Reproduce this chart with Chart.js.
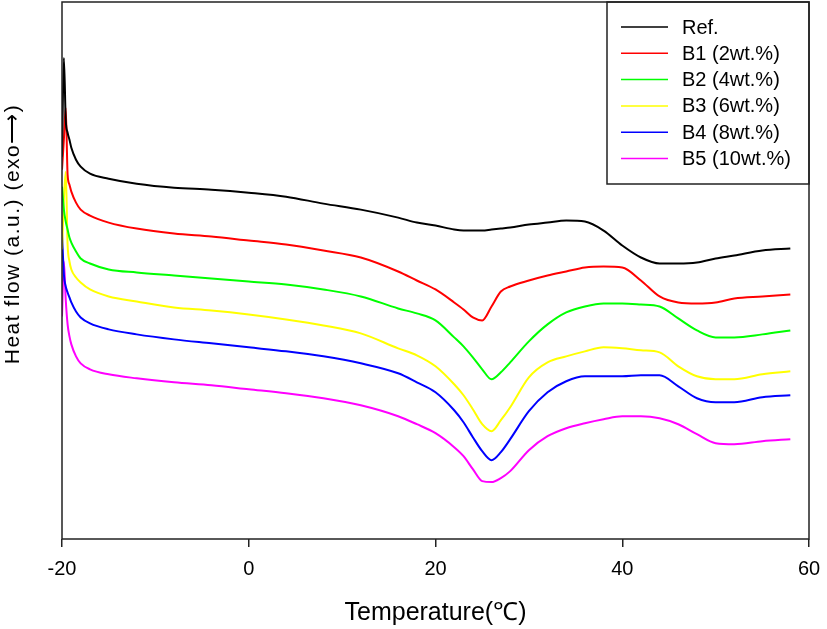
<!DOCTYPE html>
<html>
<head>
<meta charset="utf-8">
<script src="https://cdn.jsdelivr.net/npm/chart.js@4.4.1/dist/chart.umd.min.js"></script>
<style>
  html, body { margin: 0; padding: 0; background: #fff; }
  #wrap { width: 827px; height: 629px; }
</style>
</head>
<body>
<div id="wrap"><canvas id="dscChart" width="827" height="629"></canvas></div>
<script>
// temperature grid (deg C)
const temps = [-20, -19.8, -19.6, -19.4, -19.2, -19, -18.5, -18, -17, -15, -12, -8, -4, 0, 4, 8, 12, 16, 18, 20,
               22, 23, 24, 25, 26, 27, 28, 30, 32, 34, 36, 38, 40, 42, 44, 46, 48, 50, 52, 55, 58];

// heat flow, arbitrary units (curves are offset, exo up)
const refFlow = [383, 482, 420, 407, 400, 392, 380, 373, 366, 361, 356, 352, 350, 347, 343, 336, 330, 322, 317, 314,
                 310, 309, 309, 309, 310, 311, 312, 315, 317, 319, 318, 309, 294, 282, 276, 276, 277, 281, 284, 289, 291];
const b1Flow = [370, 400, 432, 365, 355, 348, 337, 330, 324, 317, 311, 306, 303, 299, 295, 289, 282, 268, 259, 250,
                237, 230, 222, 219, 233, 248, 253, 259, 264, 268, 272, 273, 272, 259, 243, 237, 236, 237, 241, 243, 245];
const b2Flow = [353, 330, 318, 310, 302, 297, 288, 281, 276, 270, 267, 264, 261, 258, 255, 250, 243, 231, 226, 219,
                202, 193, 182, 170, 160, 167, 177, 198, 215, 227, 233, 236, 236, 235, 233, 221, 209, 202, 202, 205, 209];
const b3Flow = [290, 340, 368, 295, 278, 270, 262, 257, 250, 243, 238, 232, 229, 225, 220, 214, 206, 191, 184, 173,
                155, 144, 130, 115, 108, 119, 132, 162, 177, 183, 188, 192, 191, 189, 187, 173, 163, 160, 160, 165, 168];
const b4Flow = [307, 265, 253, 247, 242, 237, 228, 222, 216, 210, 205, 200, 196, 192, 188, 183, 176, 166, 157, 147,
                129, 117, 102, 88, 79, 87, 100, 128, 147, 158, 163, 163, 163, 164, 164, 153, 141, 137, 137, 142, 144];
const b5Flow = [223, 278, 240, 215, 203, 195, 183, 176, 170, 165, 161, 157, 154, 150, 146, 141, 134, 123, 115, 106,
                92, 83, 70, 58, 57, 61, 68, 89, 103, 111, 116, 120, 123, 123, 121, 115, 105, 96, 95, 98, 100];

const seriesLabels = ['Ref.', 'B1 (2wt.%)', 'B2 (4wt.%)', 'B3 (6wt.%)', 'B4 (8wt.%)', 'B5 (10wt.%)'];
const seriesColors = ['#000000', '#ff0000', '#00ff00', '#ffff00', '#0000ff', '#ff00ff'];
const seriesValues = [refFlow, b1Flow, b2Flow, b3Flow, b4Flow, b5Flow];
const xTicks = [-20, 0, 20, 40, 60];

const FONT = '"Liberation Sans", Arial, sans-serif';

// box round the plot, the legend in the top right, and the y title
const framePlugin = {
    id: 'frame',
    afterDraw: function(chart) {
        const ctx = chart.ctx;
        const a = chart.chartArea;
        ctx.save();
        ctx.strokeStyle = '#222';
        ctx.lineWidth = 1.5;
        ctx.strokeRect(a.left, a.top, a.right - a.left, a.bottom - a.top);

        // legend box
        const boxLeft = 607, boxBottom = 184;
        ctx.strokeRect(boxLeft, a.top, a.right - boxLeft, boxBottom - a.top);
        ctx.font = '20px ' + FONT;
        ctx.textBaseline = 'middle';
        ctx.textAlign = 'left';
        chart.data.datasets.forEach(function(ds, i) {
            const y = 27 + i * 26.3;
            ctx.strokeStyle = ds.borderColor;
            ctx.lineWidth = 1.5;
            ctx.beginPath();
            ctx.moveTo(621, y);
            ctx.lineTo(668, y);
            ctx.stroke();
            ctx.fillStyle = '#000';
            ctx.fillText(ds.label, 682, y + 1);
        });

        // y axis title
        ctx.translate(13, 234);
        ctx.rotate(-Math.PI / 2);
        ctx.textAlign = 'center';
        ctx.font = '21px ' + FONT;
        if ('letterSpacing' in ctx) ctx.letterSpacing = '1.5px';
        ctx.fillStyle = '#000';
        ctx.fillText('Heat flow (a.u.) (exo\u27F6)', 0, 0);
        ctx.restore();
    }
};

const ctx = document.getElementById('dscChart').getContext('2d');
const dscChart = new Chart(ctx, {
    type: 'line',
    data: {
        datasets: seriesLabels.map(function(label, i) {
            return {
                label: label,
                data: temps.map(function(t, j) { return { x: t, y: seriesValues[i][j] }; }),
                borderColor: seriesColors[i],
                backgroundColor: seriesColors[i],
                borderWidth: 2,
                pointRadius: 0,
                cubicInterpolationMode: 'monotone',
                fill: false
            };
        })
    },
    options: {
        responsive: false,
        animation: false,
        layout: { padding: { top: 2, right: 18, left: 0, bottom: 1 } },
        plugins: {
            legend: { display: false },
            tooltip: { enabled: false }
        },
        scales: {
            x: {
                type: 'linear',
                min: -20,
                max: 60,
                afterBuildTicks: function(scale) {
                    scale.ticks = xTicks.map(function(v) { return { value: v }; });
                },
                afterFit: function(scale) {
                    scale.height = 89;
                    scale.paddingLeft = 0;
                    scale.paddingRight = 0;
                },
                grid: {
                    drawOnChartArea: false,
                    drawTicks: true,
                    tickLength: 8,
                    color: '#222',
                    lineWidth: 1.5
                },
                border: { display: false },
                ticks: {
                    color: '#000',
                    padding: 10,
                    maxRotation: 0,
                    font: { family: FONT, size: 20 }
                },
                title: {
                    display: true,
                    text: 'Temperature(\u2103)',
                    color: '#000',
                    font: { family: FONT, size: 25 },
                    padding: { top: 0, bottom: 0 }
                }
            },
            y: {
                min: 0,
                max: 538,
                afterFit: function(scale) { scale.width = 62; },
                grid: { display: false },
                border: { display: false },
                ticks: { display: false }
            }
        }
    },
    plugins: [framePlugin]
});
</script>
</body>
</html>
